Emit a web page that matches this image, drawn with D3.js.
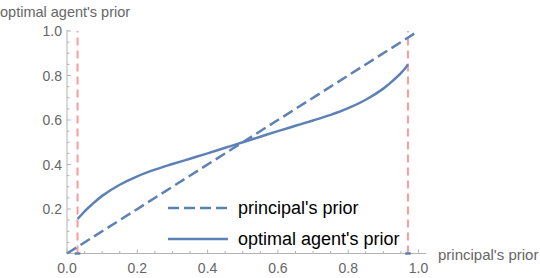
<!DOCTYPE html>
<html>
<head>
<meta charset="utf-8">
<script src="https://cdn.jsdelivr.net/npm/d3@7"></script>
<style>
  body { margin: 0; background: #fff; }
  text { font-family: "Liberation Sans", Arial, sans-serif; }
</style>
</head>
<body>
<div id="my_dataviz"></div>
<script>
// principal's prior (diagonal) and optimal agent's prior
var diagX = [0, 1];
var diagY = [0, 1];
var priorP = [0.03, 0.04, 0.05, 0.07, 0.10, 0.15, 0.20, 0.25, 0.30, 0.35, 0.40, 0.45, 0.50,
              0.55, 0.60, 0.65, 0.70, 0.75, 0.80, 0.85, 0.90, 0.93, 0.95, 0.96, 0.97];
var agentPrior = [0.155, 0.172, 0.189, 0.219, 0.259, 0.309, 0.347, 0.377, 0.402, 0.426, 0.450, 0.475, 0.50,
                  0.525, 0.550, 0.574, 0.598, 0.623, 0.653, 0.691, 0.741, 0.781, 0.811, 0.828, 0.85];
var cutoffs = [0.03, 0.97];
var xTicks = [0, 0.2, 0.4, 0.6, 0.8, 1.0];
var yTicks = [0.2, 0.4, 0.6, 0.8, 1.0];
var legendLabels = ["principal's prior", "optimal agent's prior"];

var W = 540, H = 278;
var blue = "#5e81b5", grey = "#b3b3b3", tickText = "#666";

var svg = d3.select('#my_dataviz')
    .append('svg')
    .attr('width', W)
    .attr('height', H);

var x = d3.scaleLinear().domain([0, 1]).range([67, 418.5]);
var y = d3.scaleLinear().domain([0, 1]).range([253.5, 31]);

// axes lines
svg.append("line")
    .attr("x1", x(0)).attr("x2", x(1.022))
    .attr("y1", y(0)).attr("y2", y(0))
    .attr("stroke", grey);
svg.append("line")
    .attr("x1", x(0)).attr("x2", x(0))
    .attr("y1", y(0)).attr("y2", y(1.005))
    .attr("stroke", grey);

// minor + major ticks, pointing inwards
var minor = d3.range(0, 1.0001, 0.05);
svg.selectAll(".xt").data(minor).enter().append("line")
    .attr("x1", d => x(d)).attr("x2", d => x(d))
    .attr("y1", y(0))
    .attr("y2", (d, i) => y(0) - (i % 4 == 0 ? 4 : 2.5))
    .attr("stroke", grey);
svg.selectAll(".yt").data(minor).enter().append("line")
    .attr("y1", d => y(d)).attr("y2", d => y(d))
    .attr("x1", x(0))
    .attr("x2", (d, i) => x(0) + (i % 4 == 0 ? 4 : 2.5))
    .attr("stroke", grey);

svg.selectAll(".xl").data(xTicks).enter().append("text")
    .attr("x", d => x(d)).attr("y", 273)
    .style("text-anchor", "middle")
    .style("font-size", "14px")
    .attr("fill", tickText)
    .text(d3.format(".1f"));
svg.selectAll(".yl").data(yTicks).enter().append("text")
    .attr("x", 62).attr("y", d => y(d) + 5)
    .style("text-anchor", "end")
    .style("font-size", "14px")
    .attr("fill", tickText)
    .text(d3.format(".1f"));

// axis titles
svg.append("text")
    .attr("x", 0).attr("y", 17)
    .style("font-size", "14.5px")
    .attr("fill", tickText)
    .text("optimal agent's prior");
svg.append("text")
    .attr("x", 438).attr("y", 260)
    .style("font-size", "15px")
    .attr("fill", tickText)
    .text("principal's prior");

// red cutoff lines
svg.selectAll(".cut").data(cutoffs).enter().append("line")
    .attr("x1", d => x(d)).attr("x2", d => x(d))
    .attr("y1", y(0)).attr("y2", y(1))
    .attr("stroke", "#ff9a9a")
    .attr("stroke-width", 2)
    .attr("stroke-dasharray", "8,5");

// small blue marks on the axis at the cutoffs
svg.selectAll(".edge").data(cutoffs).enter().append("line")
    .attr("x1", d => x(d - 0.008)).attr("x2", d => x(d + 0.008))
    .attr("y1", y(0)).attr("y2", y(0))
    .attr("stroke", blue)
    .attr("stroke-width", 2.5);

var line = d3.line().x(d => x(d[0])).y(d => y(d[1]));

// principal's prior
svg.append("path")
    .attr("fill", "none")
    .attr("stroke", blue)
    .attr("stroke-width", 2.5)
    .attr("stroke-dasharray", "11,5")
    .attr("d", line(d3.zip(diagX, diagY)));

// optimal agent's prior
svg.append("path")
    .attr("fill", "none")
    .attr("stroke", blue)
    .attr("stroke-width", 2.5)
    .attr("d", d3.line().curve(d3.curveCatmullRom.alpha(0.5)).x(d => x(d[0])).y(d => y(d[1]))(d3.zip(priorP, agentPrior)));

// legend
var leg = svg.append("g");
leg.selectAll(".ll").data(legendLabels).enter().append("line")
    .attr("x1", 168).attr("x2", 228)
    .attr("y1", (d, i) => 208 + i * 31).attr("y2", (d, i) => 208 + i * 31)
    .attr("stroke", blue)
    .attr("stroke-width", 2.5)
    .attr("stroke-dasharray", (d, i) => i == 0 ? "11,5" : null);
leg.selectAll(".lt").data(legendLabels).enter().append("text")
    .attr("x", 238).attr("y", (d, i) => 214 + i * 31)
    .style("font-size", "18px")
    .attr("fill", "#000")
    .text(d => d);
</script>
</body>
</html>
